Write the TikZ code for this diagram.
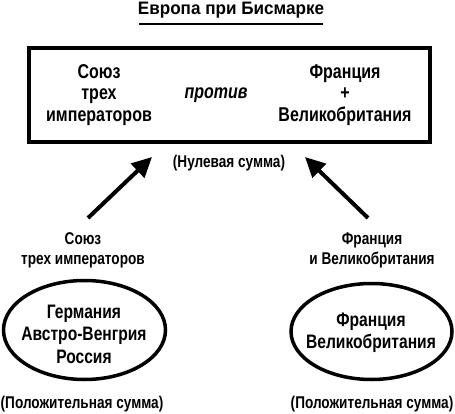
\documentclass[tikz,border=0pt]{standalone}
\usepackage{fontspec}
\setmainfont{Liberation Sans}[FakeStretch=0.8]
\newfontfamily\headfont{Liberation Sans}[FakeStretch=0.95]
\usetikzlibrary{arrows.meta,shapes.geometric,positioning}

\begin{document}
\begin{tikzpicture}[x=1pt,y=-1pt,>={Triangle[length=20pt,width=19pt]},
    txt/.style={font=\fontsize{20}{21.5}\selectfont\bfseries,align=center},
    lbl/.style={font=\fontsize{17}{20}\selectfont\bfseries,align=center},
    bloc/.style={align=center,font=\fontsize{19.5}{22.5}\selectfont\bfseries},
    ring/.style={line width=3.5pt},
    push/.style={->,line width=4pt}]
    \useasboundingbox (0,0) rectangle (455,414);

    % title
    \node[font=\fontsize{18}{20}\selectfont\headfont\bfseries] (title) at (231,10) {Европа при Бисмарке};
    \draw[line width=2pt] (139,24) -- (323,24);

    % zero sum game
    \node[draw,line width=3.5pt,minimum width=401,minimum height=94] (arena) at (229.5,95) {};
    \node[txt] (triple) at (99,95) {Союз\\трех\\императоров};
    \node[txt,font=\fontsize{20}{21.5}\selectfont\bfseries\itshape] (versus) at (216,95) {против};
    \node[txt] (entente) at (345,95) {Франция\\+\\Великобритания};
    \node[lbl] (zero) at (229,163) {(Нулевая сумма)};

    % arrows
    \coordinate (fromL) at (88,218);
    \coordinate (toL) at (152,157);
    \coordinate (fromR) at (368,218);
    \coordinate (toR) at (305,157);
    \draw[push] (fromL) -- (toL);
    \draw[push] (fromR) -- (toR);

    \node[lbl] (labL) at (83,250) {Союз\\трех императоров};
    \node[lbl] (labR) at (372,250) {Франция\\и Великобритания};

    % positive sum games
    \node[bloc] (east) at (84,334) {Германия\\Австро-Венгрия\\Россия};
    \draw[ring] (east.center) ++(0.5,-4) ellipse [x radius=81,y radius=49.5];
    \node[bloc] (west) at (371,333) {Франция\\Великобритания};
    \draw[ring] (west.center) ++(0.5,-1.5) ellipse [x radius=80.5,y radius=48];
    \node[lbl] (posL) at (82,404) {(Положительная сумма)};
    \node[lbl] (posR) at (372,404) {(Положительная сумма)};
\end{tikzpicture}
\end{document}
